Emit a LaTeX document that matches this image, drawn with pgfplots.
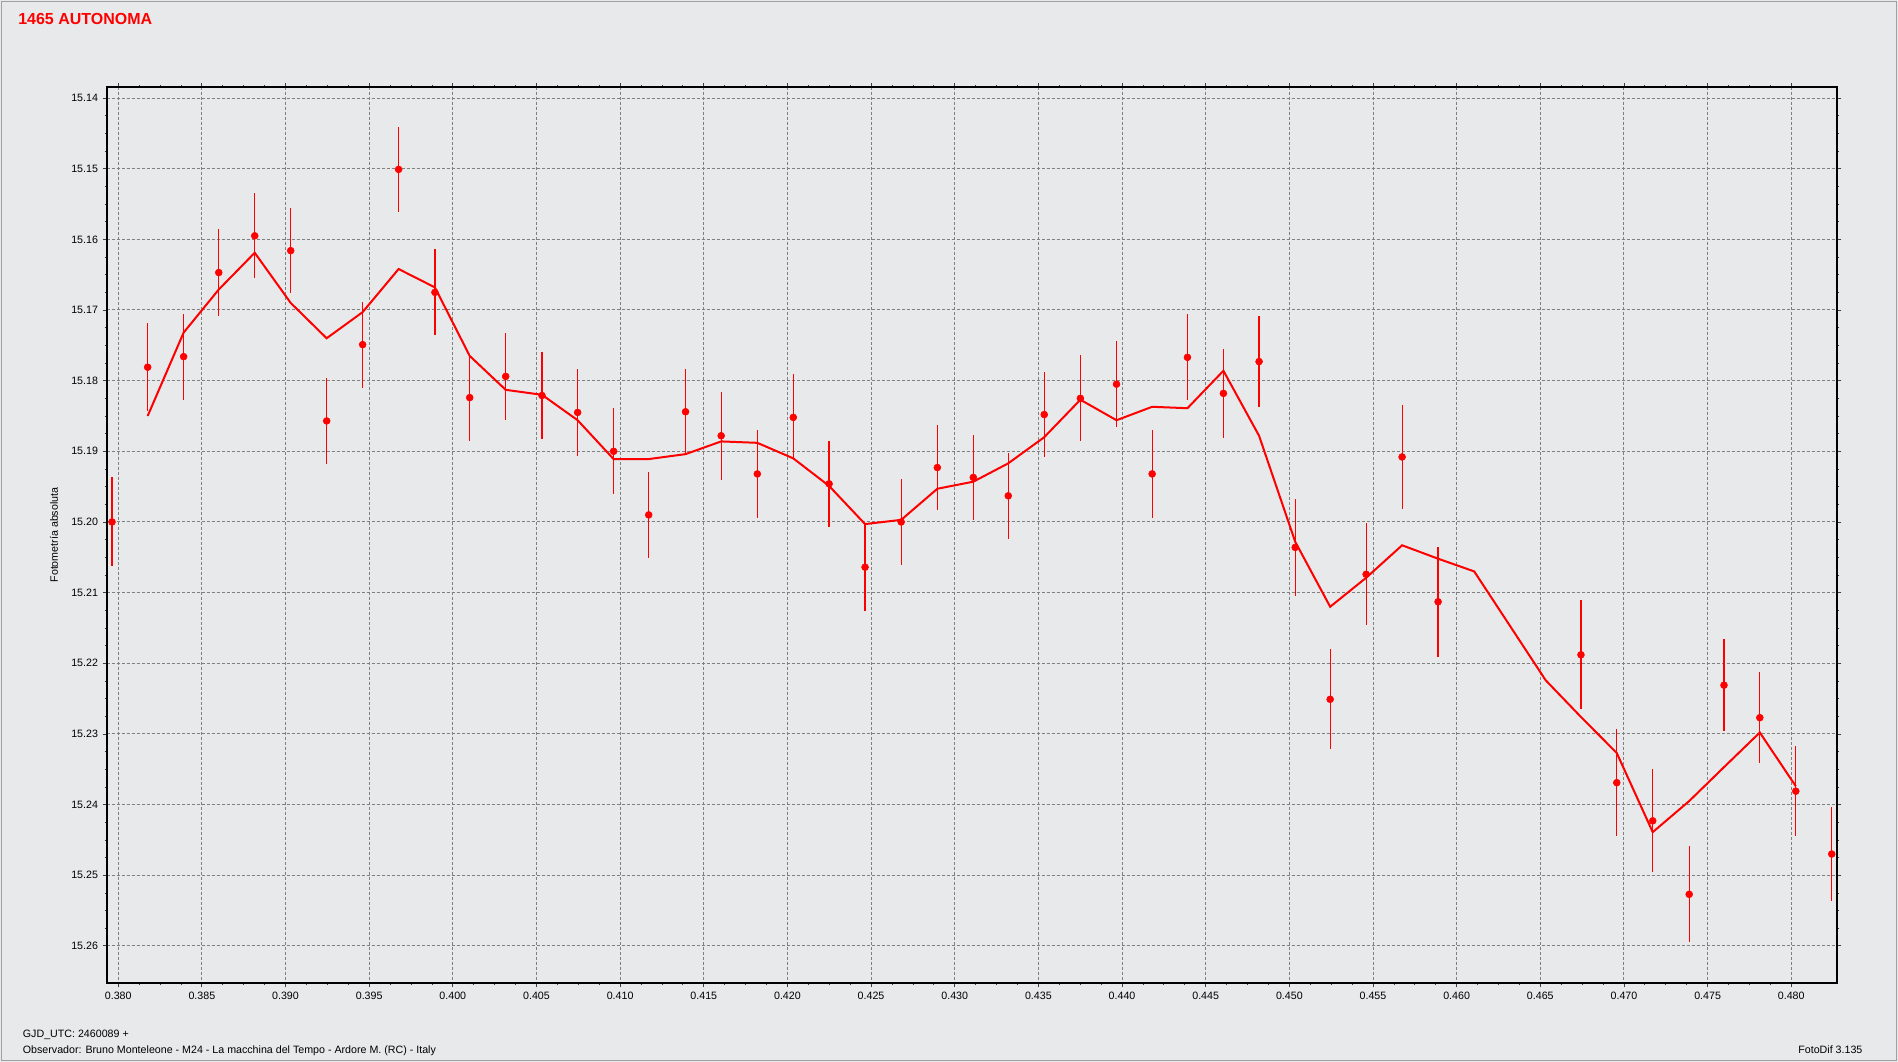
\documentclass[border=0pt]{standalone}
\usepackage{pgfplots}
\pgfplotsset{compat=1.18}
\usepackage{pgfplotstable}
\usepackage{fontspec}
\setmainfont{Liberation Sans}
\definecolor{bgc}{RGB}{232,233,235}
\definecolor{gridc}{RGB}{128,128,128}
\definecolor{framec}{RGB}{160,160,160}

\pgfplotstableread{
x y e
0.37963 15.2000 0.0063
0.38176 15.1781 0.0062
0.38391 15.1766 0.0061
0.38601 15.1647 0.0061
0.38816 15.1595 0.0060
0.39031 15.1616 0.0060
0.39246 15.1857 0.0061
0.39461 15.1749 0.0061
0.39676 15.1501 0.0060
0.39893 15.1675 0.0061
0.40101 15.1824 0.0061
0.40316 15.1794 0.0061
0.40533 15.1821 0.0062
0.40746 15.1845 0.0061
0.40961 15.1900 0.0061
0.41171 15.1990 0.0061
0.41391 15.1844 0.0061
0.41604 15.1878 0.0062
0.41820 15.1932 0.0062
0.42035 15.1852 0.0061
0.42249 15.1946 0.0061
0.42464 15.2064 0.0062
0.42680 15.2000 0.0061
0.42896 15.1923 0.0060
0.43111 15.1937 0.0060
0.43320 15.1963 0.0061
0.43535 15.1848 0.0060
0.43751 15.1825 0.0061
0.43967 15.1805 0.0061
0.44180 15.1932 0.0062
0.44391 15.1767 0.0061
0.44606 15.1818 0.0063
0.44819 15.1773 0.0065
0.45035 15.2036 0.0069
0.45244 15.2251 0.0071
0.45459 15.2074 0.0072
0.45674 15.1908 0.0074
0.45889 15.2113 0.0078
0.46743 15.2188 0.0077
0.46957 15.2369 0.0076
0.47172 15.2423 0.0073
0.47390 15.2527 0.0068
0.47598 15.2231 0.0065
0.47812 15.2277 0.0064
0.48027 15.2381 0.0064
0.48242 15.2470 0.0067
}\pts

\pgfplotstableread{
x y
0.38176 15.1850
0.38391 15.1732
0.38601 15.1671
0.38816 15.1619
0.39031 15.1690
0.39246 15.1740
0.39461 15.1703
0.39676 15.1642
0.39893 15.1668
0.40101 15.1765
0.40316 15.1813
0.40533 15.1820
0.40746 15.1856
0.40961 15.1911
0.41171 15.1911
0.41391 15.1904
0.41604 15.1886
0.41820 15.1888
0.42035 15.1910
0.42249 15.1949
0.42464 15.2003
0.42680 15.1997
0.42896 15.1953
0.43111 15.1943
0.43320 15.1917
0.43535 15.1880
0.43751 15.1827
0.43967 15.1856
0.44180 15.1837
0.44391 15.1839
0.44606 15.1786
0.44819 15.1878
0.45035 15.2028
0.45244 15.2120
0.45459 15.2079
0.45674 15.2033
0.45889 15.2052
0.46105 15.2070
0.46532 15.2224
0.46743 15.2276
0.46957 15.2327
0.47172 15.2439
0.47390 15.2395
0.47598 15.2347
0.47812 15.2298
0.48027 15.2374
}\avg

\begin{document}
\begin{tikzpicture}
\useasboundingbox (0,0) rectangle (1423.5pt,796.5pt);
\fill[bgc] (0,0) rectangle (1423.5pt,796.5pt);
\draw[framec, line width=0.75pt] (1.1pt,1.1pt) rectangle (1422.4pt,795.4pt);

\begin{axis}[
  at={(80.0pt,59.0pt)}, anchor=south west,
  scale only axis, width=1297.95pt, height=672.45pt,
  xmin=0.37931, xmax=0.48275,
  ymin=15.1384, ymax=15.2653,
  y dir=reverse,
  clip=false,
  axis background/.style={fill=bgc},
  xtick={0.380,0.385,0.390,0.395,0.400,0.405,0.410,0.415,0.420,0.425,0.430,0.435,0.440,0.445,0.450,0.455,0.460,0.465,0.470,0.475,0.480},
  ytick={15.14,15.15,15.16,15.17,15.18,15.19,15.20,15.21,15.22,15.23,15.24,15.25,15.26},
  minor tick num=3,
  tick align=outside,
  major tick length=3pt, minor tick length=1.6pt,
  tick style={black!75, line width=0.6pt},
  grid=major,
  major grid style={gridc, line width=0.75pt, dash pattern=on 2.25pt off 1.5pt},
  axis line style={black, line width=1.3pt},
  scaled x ticks=false, scaled y ticks=false,
  /pgf/number format/assume math mode=true,
  x tick label style={/pgf/number format/.cd, fixed, fixed zerofill, precision=3},
  y tick label style={/pgf/number format/.cd, fixed, fixed zerofill, precision=2},
  tick label style={font=\fontsize{8}{9}\selectfont, text=black},
]
\addplot[red, line width=1.5pt, no markers] table[x=x, y=y] {\avg};
\addplot[red, only marks, mark=*, mark size=2.6pt,
  error bars/.cd, y dir=both, y explicit, error mark=none,
  error bar style={red, line width=0.9pt}]
  table[x=x, y=y, y error=e] {\pts};
\end{axis}

\node[anchor=base west, inner sep=0, text=red, font=\fontsize{12}{14}\selectfont\bfseries] at (13.5pt,777.75pt) {1465 AUTONOMA};
\node[rotate=90, inner sep=0, font=\fontsize{8}{9}\selectfont] at (40.5pt,395.25pt) {Fotometría absoluta};
\node[anchor=base west, inner sep=0, font=\fontsize{8}{9}\selectfont] at (17pt,18.4pt) {GJD\_UTC: 2460089 +};
\node[anchor=base west, inner sep=0, font=\fontsize{8}{9}\selectfont] at (17pt,6.5pt) {Observador: Bruno Monteleone - M24 - La macchina del Tempo - Ardore M. (RC) - Italy};
\node[anchor=base east, inner sep=0, font=\fontsize{8}{9}\selectfont] at (1397pt,6.5pt) {FotoDif 3.135};
\end{tikzpicture}
\end{document}
